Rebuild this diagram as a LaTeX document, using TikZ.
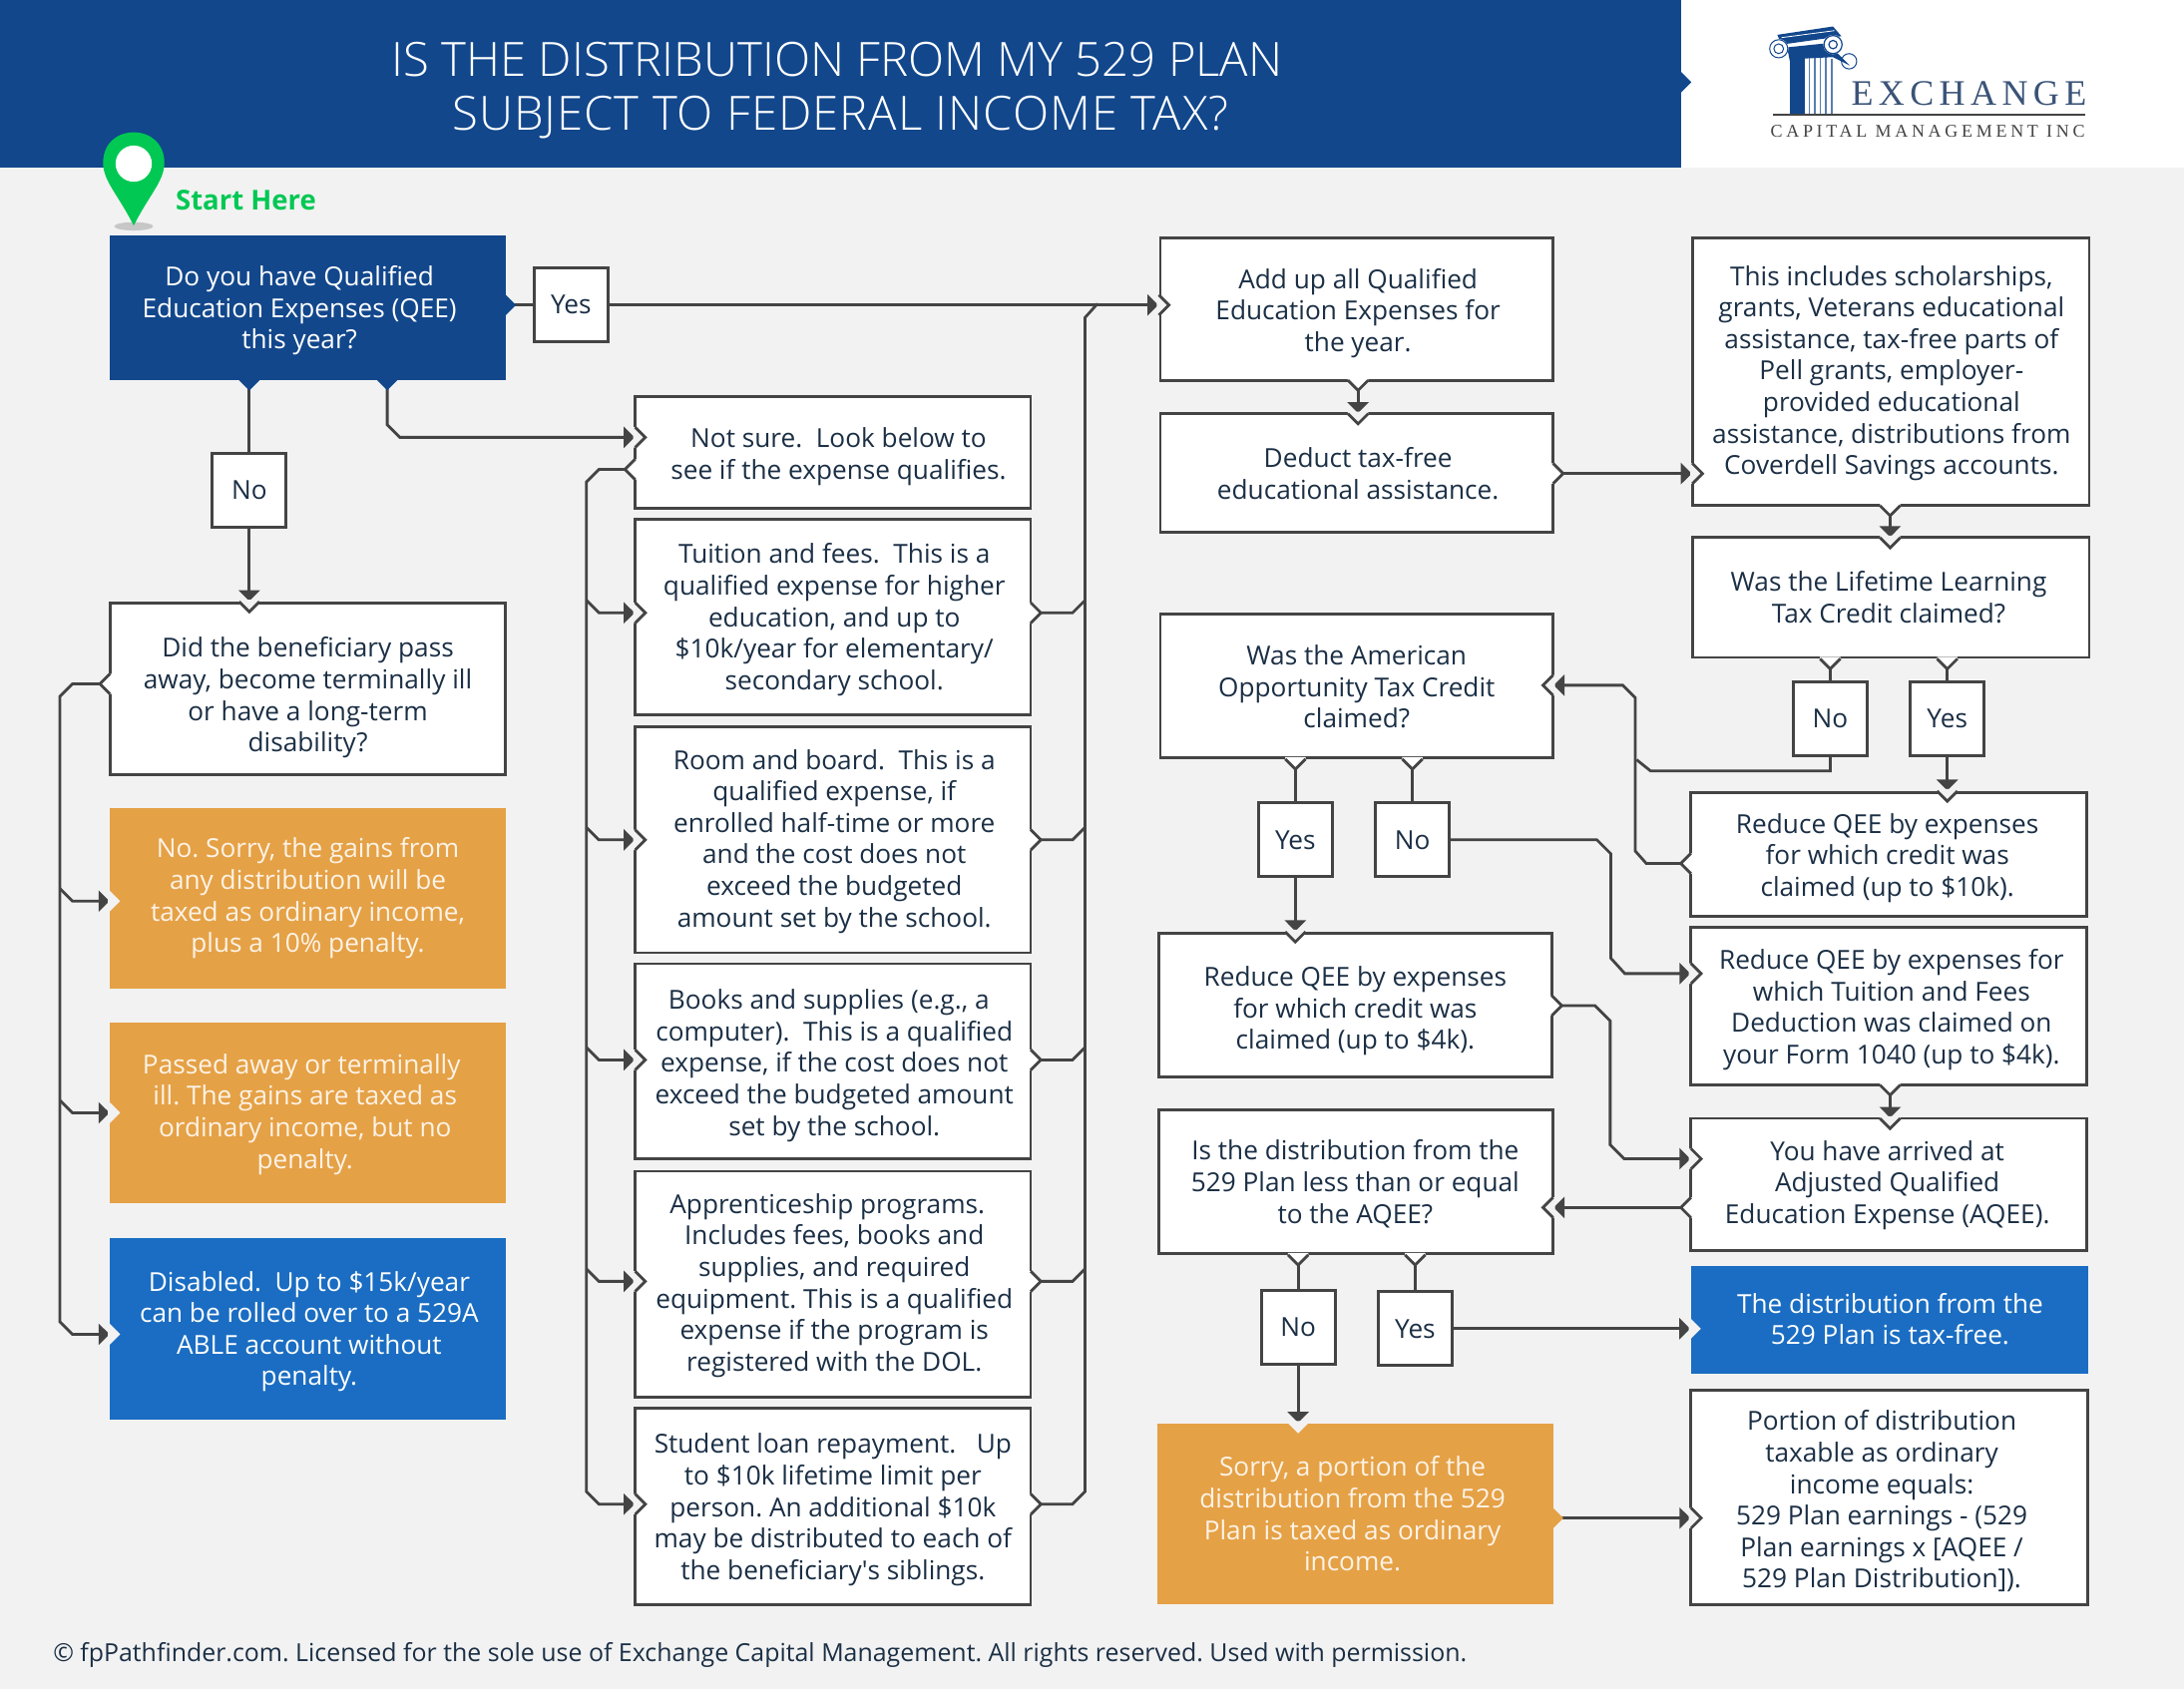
\documentclass[tikz,border=0pt]{standalone}
\usepackage{fontspec}
\setmainfont{Open Sans}
\newfontfamily\lightfont{Open Sans Light}
\newfontfamily\lightwide[LetterSpace=2.1]{Open Sans Light}
\newfontfamily\logofont[LetterSpace=15]{Liberation Serif}
\newfontfamily\logosmall[LetterSpace=20.6]{Liberation Serif}
\usepackage[HTML]{xcolor}
\usetikzlibrary{positioning, arrows.meta, fit}

\definecolor{pagebg}{HTML}{F2F2F2}
\definecolor{headblue}{HTML}{12478C}
\definecolor{brightblue}{HTML}{1A6DC2}
\definecolor{ochre}{HTML}{E5A146}
\definecolor{linegrey}{HTML}{444444}
\definecolor{inkblue}{HTML}{1B2F45}
\definecolor{cream}{HTML}{FDF3E6}
\definecolor{pingreen}{HTML}{00C853}
\definecolor{logoink}{HTML}{3A5378}

\tikzset{
  plainbox/.style={draw=linegrey, fill=white, line width=2.8pt, inner sep=0pt},
  headbox/.style={fill=headblue, inner sep=0pt},
  ochrebox/.style={fill=ochre, inner sep=0pt},
  bluebox/.style={fill=brightblue, inner sep=0pt},
  choice/.style={draw=linegrey, fill=white, line width=2.8pt, minimum size=74pt, inner sep=0pt,
    text=inkblue, font=\fontsize{26.2}{31.6}\selectfont},
  boxtext/.style={align=center, text=inkblue, inner sep=0pt, font=\fontsize{26.2}{31.6}\selectfont},
  lighttext/.style={boxtext, text=cream},
  whitetext/.style={boxtext, text=white},
  flow/.style={draw=linegrey, line width=2.8pt},
  arrowflow/.style={flow, -{Triangle[length=11pt,width=21pt]}, shorten >=0.5pt},
  chev/.pic={
    \fill[#1] (-1.5,-7.3) -- (0,-7.3) -- (7.3,0) -- (0,7.3) -- (-1.5,7.3) -- cycle;
    \draw[linegrey, line width=2.8pt] (0,-7.3) -- (7.3,0) -- (0,7.3);
  },
  chevfill/.pic={
    \fill[#1] (-1.5,-7.3) -- (0,-7.3) -- (7.3,0) -- (0,7.3) -- (-1.5,7.3) -- cycle;
  }
}

\begin{document}
\frenchspacing
\begin{tikzpicture}[x=1.396pt, y=-1.396pt]
\useasboundingbox (0,0) rectangle (1568,1213);
\fill[pagebg] (0,0) rectangle (1568,1213);

% header
\node[headbox, fit={(0,0) (1207,120)}] (banner) {};
\node[fill=white, inner sep=0pt, fit={(1207,0) (1568,120)}] (logo) {};
\pic at (1207,59) {chevfill=headblue};
\node[align=center, text=white, inner sep=0pt, font=\lightfont\fontsize{47.3}{54.5}\selectfont] (title) at (601,65)
  {IS THE DISTRIBUTION FROM MY 529 PLAN\\\hspace*{7pt}{\lightwide SUBJECT TO FEDERAL INCOME TAX?}};

% logo
\fill[headblue] (1285,40) rectangle (1296,82);
\draw[headblue!70, line width=1.6pt] (1299,40) -- (1299,82) (1303,40) -- (1303,82) (1307,40) -- (1307,82)
  (1311,40) -- (1311,82) (1315,42) -- (1315,82);
\fill[headblue] (1283,34) -- (1312,31) -- (1328,47) -- (1316,41) -- (1296,42) -- (1285,44) -- cycle;
\fill[headblue] (1276,25) -- (1316,19) -- (1322,26) -- (1279,32) -- cycle;
\draw[white, line width=0.8pt] (1279,27) -- (1317,22);
\fill[white] (1277,35) circle (7);
\draw[headblue, line width=1pt] (1277,35) circle (6.5) (1277,35) circle (3.5);
\fill[white] (1316,32) circle (7);
\draw[headblue, line width=1.2pt] (1316,32) circle (6.5) (1316,32) circle (3);
\draw[headblue, line width=1pt] (1327.5,44) circle (5.5);
\draw[linegrey, line width=1.6pt] (1273,82.5) -- (1497,82.5);
\node[anchor=west, text=logoink, inner sep=0pt, font=\logofont\fontsize{36}{36}\selectfont] (logotop) at (1329,67) {EXCHANGE};
\node[anchor=west, text=linegrey, inner sep=0pt, font=\logosmall\fontsize{18}{18}\selectfont] (logobot) at (1271,94) {CAPITAL MANAGEMENT INC};

% start marker
\fill[black!22] (96,162.5) ellipse (14 and 3);
\fill[pingreen] (96,162) .. controls (85,140) and (74,130) .. (74,117) .. controls (74,103) and (84,95) .. (96,95)
  .. controls (108,95) and (118,103) .. (118,117) .. controls (118,130) and (107,140) .. (96,162) -- cycle;
\fill[white] (96,117.5) circle (13);
\node[anchor=west, text=pingreen, inner sep=0pt, font=\bfseries\fontsize{27.5}{30}\selectfont] (start) at (126,144) {Start Here};

% left column
\node[headbox, fit={(79,169) (363,273)}] (q1) {};
\node[whitetext] (q1T) at (215,223) {Do you have Qualified\\Education Expenses (QEE)\\this year?};
\node[plainbox, fit={(79,433) (363,556)}] (bene) {};
\node[boxtext] (beneT) at (221,501) {Did the beneficiary pass\\away, become terminally ill\\or have a long-term\\disability?};
\node[ochrebox, fit={(79,580) (363,710)}] (ochreA) {};
\node[lighttext] (ochreAT) at (221,645) {No. Sorry, the gains from\\any distribution will be\\taxed as ordinary income,\\plus a 10\% penalty.};
\node[ochrebox, fit={(79,734) (363,864)}] (ochreB) {};
\node[lighttext] (ochreBT) at (219,800) {Passed away or terminally\hspace*{7pt}\\ill. The gains are taxed as\\ordinary income, but no\\penalty.};
\node[bluebox, fit={(79,889) (363,1019)}] (disabled) {};
\node[whitetext] (disabledT) at (222,956) {Disabled.\ \ Up to \$15k/year\\can be rolled over to a 529A\\ABLE account without\\penalty.};

% middle column
\node[plainbox, fit={(456,285) (740,365)}] (notsure) {};
\node[boxtext] (notsureT) at (602,328) {Not sure.\ \ Look below to\\see if the expense qualifies.};
\node[plainbox, fit={(456,373) (740,513)}] (tuition) {};
\node[boxtext] (tuitionT) at (599,445) {Tuition and fees.\ \ This is a\\qualified expense for higher\\education, and up to\\\$10k/year for elementary/\\secondary school.};
\node[plainbox, fit={(456,522) (740,684)}] (room) {};
\node[boxtext] (roomT) at (599,604) {Room and board.\ \ This is a\\qualified expense, if\\enrolled half-time or more\\and the cost does not\\exceed the budgeted\\amount set by the school.};
\node[plainbox, fit={(456,692) (740,832)}] (books) {};
\node[boxtext] (booksT) at (599,765) {Books and supplies (e.g., a\hspace*{11pt}\\computer).\ \ This is a qualified\\expense, if the cost does not\\exceed the budgeted amount\\set by the school.};
\node[plainbox, fit={(456,841) (740,1003)}] (appr) {};
\node[boxtext] (apprT) at (599,923) {Apprenticeship programs.\hspace*{14pt}\\Includes fees, books and\\supplies, and required\\equipment. This is a qualified\\expense if the program is\\registered with the DOL.};
\node[plainbox, fit={(456,1011) (740,1152)}] (loan) {};
\node[boxtext] (loanT) at (598,1084) {Student loan repayment.\ \ \ Up\\to \$10k lifetime limit per\\person. An additional \$10k\\may be distributed to each of\\the beneficiary\textquotesingle s siblings.};

% third column
\node[plainbox, fit={(833,171) (1115,273)}] (addup) {};
\node[boxtext] (addupT) at (975,225) {Add up all Qualified\\Education Expenses for\\the year.};
\node[plainbox, fit={(833,297) (1115,382)}] (deduct) {};
\node[boxtext] (deductT) at (975,340) {Deduct tax-free\\educational assistance.};
\node[plainbox, fit={(833,441) (1115,544)}] (american) {};
\node[boxtext] (americanT) at (974,493) {Was the American\\Opportunity Tax Credit\\claimed?};
\node[plainbox, fit={(832,670) (1114,773)}] (reduceF) {};
\node[boxtext] (reduceFT) at (973,726) {Reduce QEE by expenses\\for which credit was\\claimed (up to \$4k).};
\node[plainbox, fit={(832,797) (1115,900)}] (dist) {};
\node[boxtext] (distT) at (973,850) {Is the distribution from the\\529 Plan less than or equal\\to the AQEE?};
\node[ochrebox, fit={(831,1022) (1115,1152)}] (sorry) {};
\node[lighttext] (sorryT) at (971,1087) {Sorry, a portion of the\\distribution from the 529\\Plan is taxed as ordinary\\income.};

% right column
\node[plainbox, fit={(1215,171) (1500,363)}] (incl) {};
\node[boxtext] (inclT) at (1358,268) {This includes scholarships,\\grants, Veterans educational\\assistance, tax-free parts of\\Pell grants, employer-\\provided educational\\assistance, distributions from\\Coverdell Savings accounts.};
\node[plainbox, fit={(1215,386) (1500,472)}] (lifetime) {};
\node[boxtext] (lifetimeT) at (1356,429) {Was the Lifetime Learning\\Tax Credit claimed?};
\node[plainbox, fit={(1214,569) (1498,658)}] (reduceT) {};
\node[boxtext] (reduceTT) at (1355,616) {Reduce QEE by expenses\\for which credit was\\claimed (up to \$10k).};
\node[plainbox, fit={(1214,666) (1498,779)}] (fees) {};
\node[boxtext] (feesT) at (1358,725) {Reduce QEE by expenses for\\which Tuition and Fees\\Deduction was claimed on\\your Form 1040 (up to \$4k).};
\node[plainbox, fit={(1214,803) (1498,898)}] (aqee) {};
\node[boxtext] (aqeeT) at (1355,851) {You have arrived at\\Adjusted Qualified\\Education Expense (AQEE).};
\node[bluebox, fit={(1214,909) (1499,986)}] (free) {};
\node[whitetext] (freeT) at (1357,947) {The distribution from the\\529 Plan is tax-free.};
\node[plainbox, fit={(1214,998) (1499,1152)}] (portion) {};
\node[boxtext] (portionT) at (1351,1078) {Portion of distribution\\taxable as ordinary\\income equals:\\529 Plan earnings - (529\\Plan earnings x [AQEE /\\529 Plan Distribution]).};

% yes and no boxes
\node[choice] (yesA) at (410,219) {Yes};
\node[choice] (noA) at (179,352) {No};
\node[choice] (noB) at (1314,516) {No};
\node[choice] (yesB) at (1398,516) {Yes};
\node[choice] (yesC) at (930,603) {Yes};
\node[choice] (noC) at (1014,603) {No};
\node[choice] (noD) at (932,953) {No};
\node[choice] (yesD) at (1016,954) {Yes};

\coordinate (q1E) at (q1.east |- yesA);
\coordinate (q1Sa) at (q1.south -| noA);
\coordinate (q1Sb) at (278,273);
\coordinate (beneN) at (bene.north -| noA);
\coordinate (beneW) at (79,491);
\coordinate (ochreAW) at (79,647);
\coordinate (ochreBW) at (79,799);
\coordinate (disabledW) at (79,958);
\coordinate (notsureWa) at (456,314);
\coordinate (notsureWb) at (456,337);
\coordinate (tuitionW) at (456,440);
\coordinate (roomW) at (456,603);
\coordinate (booksW) at (456,761);
\coordinate (apprW) at (456,920);
\coordinate (loanW) at (456,1080);
\coordinate (tuitionE) at (740,440);
\coordinate (roomE) at (740,603);
\coordinate (booksE) at (740,761);
\coordinate (apprE) at (740,920);
\coordinate (loanE) at (740,1080);
\coordinate (addupW) at (addup.west |- yesA);
\coordinate (addupS) at (975,273);
\coordinate (deductN) at (975,297);
\coordinate (deductE) at (1115,340);
\coordinate (inclW) at (1215,340);
\coordinate (inclS) at (1357,363);
\coordinate (lifetimeN) at (1357,386);
\coordinate (lifetimeSa) at (lifetime.south -| noB);
\coordinate (lifetimeSb) at (lifetime.south -| yesB);
\coordinate (reduceTN) at (reduceT.north -| yesB);
\coordinate (reduceTW) at (1214,620);
\coordinate (americanE) at (1115,492);
\coordinate (americanSa) at (american.south -| yesC);
\coordinate (americanSb) at (american.south -| noC);
\coordinate (reduceFN) at (reduceF.north -| yesC);
\coordinate (reduceFE) at (1114,722);
\coordinate (feesW) at (1214,699);
\coordinate (feesS) at (1357,779);
\coordinate (aqeeN) at (1357,803);
\coordinate (aqeeWa) at (1214,832);
\coordinate (aqeeWb) at (1214,867);
\coordinate (distE) at (1115,867);
\coordinate (distSa) at (dist.south -| noD);
\coordinate (distSb) at (dist.south -| yesD);
\coordinate (sorryN) at (sorry.north -| noD);
\coordinate (sorryE) at (1115,1090);
\coordinate (portionW) at (1214,1090);
\coordinate (freeW) at (free.west |- yesD);

% connectors
\draw[flow] (q1E) -- (yesA);
\draw[arrowflow] (yesA) -- (addupW);
\draw[flow] (q1Sa) -- (noA);
\draw[arrowflow] (noA) -- (beneN);
\draw[arrowflow] (q1Sb) -- ++(0,32) -- ++(9,9) -- (notsureWa);

\draw[arrowflow] (beneW) -- ++(-27,0) -- ++(-9,9) -- ++(0,449) -- ++(9,9) -- (disabledW);
\draw[arrowflow] (ochreAW) ++(-36,-9) -- ++(9,9) -- (ochreAW);
\draw[arrowflow] (ochreBW) ++(-36,-9) -- ++(9,9) -- (ochreBW);

\draw[arrowflow] (notsureWb) -- ++(-26,0) -- ++(-9,9) -- ++(0,725) -- ++(9,9) -- (loanW);
\draw[arrowflow] (tuitionW) ++(-35,-9) -- ++(9,9) -- (tuitionW);
\draw[arrowflow] (roomW) ++(-35,-9) -- ++(9,9) -- (roomW);
\draw[arrowflow] (booksW) ++(-35,-9) -- ++(9,9) -- (booksW);
\draw[arrowflow] (apprW) ++(-35,-9) -- ++(9,9) -- (apprW);

\draw[flow] (loanE) -- ++(30,0) -- ++(9,-9) -- ++(0,-843) -- ++(9,-10);
\draw[flow] (tuitionE) -- ++(30,0) -- ++(9,-9);
\draw[flow] (roomE) -- ++(30,0) -- ++(9,-9);
\draw[flow] (booksE) -- ++(30,0) -- ++(9,-9);
\draw[flow] (apprE) -- ++(30,0) -- ++(9,-9);

\draw[arrowflow] (addupS) -- (deductN);
\draw[arrowflow] (deductE) -- (inclW);
\draw[arrowflow] (inclS) -- (lifetimeN);
\draw[flow] (lifetimeSa) -- (noB);
\draw[flow] (lifetimeSb) -- (yesB);
\draw[arrowflow] (yesB) -- (reduceTN);
\draw[flow] (noB.south) -- ++(0,10) -- ++(-129,0) -- ++(-10,-8);
\draw[arrowflow] (reduceTW) -- ++(-32,0) -- ++(-8,-9) -- ++(0,-110) -- ++(-9,-9) -- (americanE);

\draw[flow] (americanSa) -- (yesC);
\draw[flow] (americanSb) -- (noC);
\draw[arrowflow] (yesC) -- (reduceFN);
\draw[arrowflow] (noC.east) -- ++(105,0) -- ++(10,10) -- ++(0,75) -- ++(10,11) -- (feesW);
\draw[arrowflow] (reduceFE) -- ++(31,0) -- ++(11,11) -- ++(0,89) -- ++(10,10) -- (aqeeWa);
\draw[arrowflow] (feesS) -- (aqeeN);
\draw[arrowflow] (aqeeWb) -- (distE);
\draw[flow] (distSa) -- (noD);
\draw[flow] (distSb) -- (yesD);
\draw[arrowflow] (noD) -- (sorryN);
\draw[arrowflow] (yesD) -- (freeW);
\draw[arrowflow] (sorryE) -- (portionW);

% bumps and notches
\pic at (q1E) {chevfill=headblue};
\pic[rotate=270] at (q1Sa) {chevfill=headblue};
\pic[rotate=270] at (q1Sb) {chevfill=headblue};
\pic[rotate=270] at (beneN) {chev=pagebg};
\pic[rotate=180] at (beneW) {chev=white};
\pic at (ochreAW) {chevfill=pagebg};
\pic at (ochreBW) {chevfill=pagebg};
\pic at (disabledW) {chevfill=pagebg};
\pic at (notsureWa) {chev=pagebg};
\pic[rotate=180] at (notsureWb) {chev=white};
\pic at (tuitionW) {chev=pagebg};
\pic at (roomW) {chev=pagebg};
\pic at (booksW) {chev=pagebg};
\pic at (apprW) {chev=pagebg};
\pic at (loanW) {chev=pagebg};
\pic at (tuitionE) {chev=white};
\pic at (roomE) {chev=white};
\pic at (booksE) {chev=white};
\pic at (apprE) {chev=white};
\pic at (loanE) {chev=white};
\pic at (addupW) {chev=pagebg};
\pic[rotate=270] at (addupS) {chev=white};
\pic[rotate=270] at (deductN) {chev=pagebg};
\pic at (deductE) {chev=white};
\pic at (inclW) {chev=pagebg};
\pic[rotate=270] at (inclS) {chev=white};
\pic[rotate=270] at (lifetimeN) {chev=pagebg};
\pic[rotate=270] at (lifetimeSa) {chev=white};
\pic[rotate=270] at (lifetimeSb) {chev=white};
\pic[rotate=270] at (reduceTN) {chev=pagebg};
\pic[rotate=180] at (reduceTW) {chev=white};
\pic[rotate=180] at (americanE) {chev=pagebg};
\pic[rotate=270] at (americanSa) {chev=white};
\pic[rotate=270] at (americanSb) {chev=white};
\pic[rotate=270] at (reduceFN) {chev=pagebg};
\pic at (reduceFE) {chev=white};
\pic at (feesW) {chev=pagebg};
\pic[rotate=270] at (feesS) {chev=white};
\pic[rotate=270] at (aqeeN) {chev=pagebg};
\pic at (aqeeWa) {chev=pagebg};
\pic[rotate=180] at (aqeeWb) {chev=white};
\pic[rotate=180] at (distE) {chev=pagebg};
\pic[rotate=270] at (distSa) {chev=white};
\pic[rotate=270] at (distSb) {chev=white};
\pic[rotate=270] at (sorryN) {chevfill=pagebg};
\pic at (sorryE) {chevfill=ochre};
\pic at (portionW) {chev=pagebg};
\pic at (freeW) {chevfill=pagebg};

% footer
\node[anchor=west, text=inkblue, inner sep=0pt, font=\fontsize{24.9}{30}\selectfont] (footer) at (38,1188)
  {\textcopyright{} fpPathfinder.com. Licensed for the sole use of Exchange Capital Management. All rights reserved. Used with permission.};
\end{tikzpicture}
\end{document}
